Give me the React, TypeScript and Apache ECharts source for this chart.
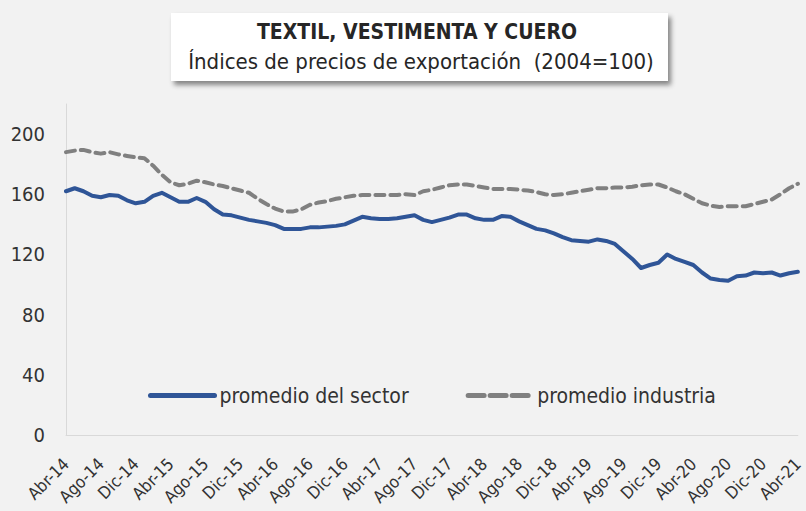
import React, { useEffect, useRef } from "react";
import * as echarts from "echarts";

const categories: string[] = [
  "Abr-14", "May-14", "Jun-14", "Jul-14", "Ago-14", "Sep-14", "Oct-14", "Nov-14", "Dic-14",
  "Ene-15", "Feb-15", "Mar-15", "Abr-15", "May-15", "Jun-15", "Jul-15", "Ago-15", "Sep-15", "Oct-15", "Nov-15", "Dic-15",
  "Ene-16", "Feb-16", "Mar-16", "Abr-16", "May-16", "Jun-16", "Jul-16", "Ago-16", "Sep-16", "Oct-16", "Nov-16", "Dic-16",
  "Ene-17", "Feb-17", "Mar-17", "Abr-17", "May-17", "Jun-17", "Jul-17", "Ago-17", "Sep-17", "Oct-17", "Nov-17", "Dic-17",
  "Ene-18", "Feb-18", "Mar-18", "Abr-18", "May-18", "Jun-18", "Jul-18", "Ago-18", "Sep-18", "Oct-18", "Nov-18", "Dic-18",
  "Ene-19", "Feb-19", "Mar-19", "Abr-19", "May-19", "Jun-19", "Jul-19", "Ago-19", "Sep-19", "Oct-19", "Nov-19", "Dic-19",
  "Ene-20", "Feb-20", "Mar-20", "Abr-20", "May-20", "Jun-20", "Jul-20", "Ago-20", "Sep-20", "Oct-20", "Nov-20", "Dic-20",
  "Ene-21", "Feb-21", "Mar-21", "Abr-21",
];

const promedioSector: number[] = [
  162, 164, 162, 159, 158, 159.5, 159, 156, 154, 155, 159, 161, 158, 155, 155, 157.5, 155, 150, 146.5, 146, 144.5, 143,
  142, 141, 139.5, 137, 137, 137, 138, 138, 138.5, 139, 140, 142.5, 145, 144, 143.5, 143.5, 144, 145, 146, 143,
  141.5, 143, 144.5, 146.5, 146.5, 144, 143, 143, 145.5, 145, 142, 139.5, 137, 136, 134, 131.5, 129.5, 129, 128.5, 130, 129,
  127, 122, 117, 111, 113, 114.5, 120, 117, 115, 113, 108, 104, 103, 102.5, 105.5, 106, 108, 107.5, 108, 106, 107.5, 108.5,
];

const promedioIndustria: number[] = [
  188, 189, 189.5, 188, 187, 188, 186.5, 185.5, 184.5, 184, 179, 173, 168, 166, 167, 169, 168, 166.5, 165.5, 164, 162.5,
  161, 157, 153.5, 150.5, 148.5, 148.5, 150, 153, 154.5, 155.5, 157, 158, 159, 159.5, 159.5, 159.5, 159.5, 159.5, 160, 159.5, 162,
  163, 164.5, 166, 166.5, 166.5, 165.5, 164.5, 163.5, 163.5, 163.5, 163, 162.5, 161.5, 160, 159.5, 160, 161, 162, 163, 164,
  164, 164.5, 164.5, 165, 166, 166.5, 166.5, 164.5, 162, 160, 157, 154, 152.5, 151.5, 152, 152, 152, 153.5, 155, 156.5, 160, 164, 167,
];

const seriesNames: string[] = ["promedio del sector", "promedio industria"];
const titleLines: string[] = ["TEXTIL, VESTIMENTA Y CUERO", "Índices de precios de exportación  (2004=100)"];

const FONT = "'DejaVu Sans Condensed', 'Liberation Sans Narrow', Roboto, sans-serif";

export default function App() {
  const ref = useRef<HTMLDivElement>(null);
  useEffect(() => {
    if (!ref.current) return;
    const chart = echarts.init(ref.current, undefined, { renderer: "svg" });
    chart.setOption({
      animation: false,
      backgroundColor: "#f2f2f2",
      textStyle: { fontFamily: FONT },
      grid: { left: 66, right: 1, top: 104, bottom: 76, containLabel: false },
      graphic: [
        {
          type: "rect",
          shape: { x: 171, y: 13, width: 497, height: 68 },
          style: {
            fill: "#ffffff",
            shadowBlur: 5,
            shadowOffsetX: 3,
            shadowOffsetY: 4,
            shadowColor: "rgba(0,0,0,0.45)",
          },
          z: 10,
        },
        {
          type: "text",
          x: 417,
          y: 32,
          style: {
            text: titleLines[0],
            fontFamily: FONT,
            fontSize: 21,
            fontWeight: "bold",
            fill: "#262626",
            align: "center",
            verticalAlign: "middle",
          },
          z: 11,
        },
        {
          type: "text",
          x: 421,
          y: 61,
          style: {
            text: titleLines[1],
            fontFamily: FONT,
            fontSize: 22,
            fill: "#262626",
            align: "center",
            verticalAlign: "middle",
          },
          z: 11,
        },
      ],
      legend: {
        left: 143,
        top: 380,
        itemWidth: 64,
        itemHeight: 14,
        itemGap: 57,
        itemStyle: { opacity: 0 },
        textStyle: { fontFamily: FONT, fontSize: 21, color: "#333333" },
        data: [
          { name: seriesNames[0], lineStyle: { width: 5 } },
          { name: seriesNames[1], lineStyle: { width: 5, type: [16, 6] } },
        ],
      },
      xAxis: {
        type: "category",
        data: categories,
        boundaryGap: false,
        axisLine: { show: true, lineStyle: { color: "#d9d9d9", width: 1 } },
        axisTick: { show: false },
        splitLine: { show: false },
        axisLabel: {
          interval: 3,
          rotate: 45,
          fontFamily: FONT,
          fontSize: 17,
          color: "#333333",
          margin: 26,
        },
      },
      yAxis: {
        type: "value",
        min: 0,
        max: 220,
        interval: 40,
        axisLine: { show: true, lineStyle: { color: "#d9d9d9", width: 1 } },
        axisTick: { show: false },
        splitLine: { show: false },
        axisLabel: {
          showMaxLabel: false,
          fontFamily: FONT,
          fontSize: 20,
          color: "#333333",
          margin: 21,
        },
      },
      series: [
        {
          name: seriesNames[0],
          type: "line",
          data: promedioSector,
          symbol: "none",
          lineStyle: { color: "#2f5597", width: 4, cap: "round", join: "round" },
          itemStyle: { color: "#2f5597" },
        },
        {
          name: seriesNames[1],
          type: "line",
          data: promedioIndustria,
          symbol: "none",
          lineStyle: { color: "#808080", width: 4, type: [9, 6], cap: "round", join: "round" },
          itemStyle: { color: "#808080" },
        },
      ],
    });
    return () => chart.dispose();
  }, []);
  return (
    <div
      ref={ref}
      style={{ position: "fixed", left: 0, top: 0, width: 806, height: 511 }}
    />
  );
}
